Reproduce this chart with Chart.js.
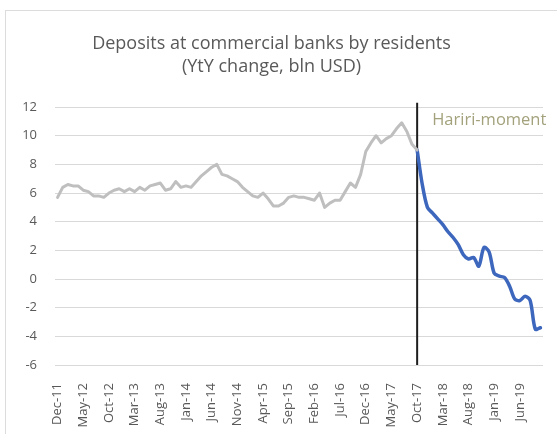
<!DOCTYPE html>
<html>
<head>
<meta charset="utf-8">
<script src="https://cdn.jsdelivr.net/npm/chart.js@4"></script>
<style>
  html, body { margin: 0; padding: 0; background: #ffffff; overflow: hidden; }
  #frame { position: absolute; left: 5px; top: 10px; width: 600px; height: 500px;
           border: 1px solid #dcdcdc; box-sizing: border-box; }
  #wrap { position: absolute; left: 0; top: 0; width: 557px; height: 434px; }
</style>
</head>
<body>
<div id="frame"></div>
<div id="wrap"><canvas id="chart" width="557" height="434"></canvas></div>
<script>
// Monthly categories, Dec-11 .. Oct-19
const months = [
  'Dec-11',
  'Jan-12','Feb-12','Mar-12','Apr-12','May-12','Jun-12','Jul-12','Aug-12','Sep-12','Oct-12','Nov-12','Dec-12',
  'Jan-13','Feb-13','Mar-13','Apr-13','May-13','Jun-13','Jul-13','Aug-13','Sep-13','Oct-13','Nov-13','Dec-13',
  'Jan-14','Feb-14','Mar-14','Apr-14','May-14','Jun-14','Jul-14','Aug-14','Sep-14','Oct-14','Nov-14','Dec-14',
  'Jan-15','Feb-15','Mar-15','Apr-15','May-15','Jun-15','Jul-15','Aug-15','Sep-15','Oct-15','Nov-15','Dec-15',
  'Jan-16','Feb-16','Mar-16','Apr-16','May-16','Jun-16','Jul-16','Aug-16','Sep-16','Oct-16','Nov-16','Dec-16',
  'Jan-17','Feb-17','Mar-17','Apr-17','May-17','Jun-17','Jul-17','Aug-17','Sep-17','Oct-17','Nov-17','Dec-17',
  'Jan-18','Feb-18','Mar-18','Apr-18','May-18','Jun-18','Jul-18','Aug-18','Sep-18','Oct-18','Nov-18','Dec-18',
  'Jan-19','Feb-19','Mar-19','Apr-19','May-19','Jun-19','Jul-19','Aug-19','Sep-19','Oct-19'
];

// YtY change in resident deposits, bln USD: Dec-11 .. Oct-17
const beforeHariri = [
  5.7,
  6.4, 6.6, 6.5, 6.5, 6.2, 6.1, 5.8, 5.8, 5.7, 6.0, 6.2, 6.3,
  6.1, 6.3, 6.1, 6.4, 6.2, 6.5, 6.6, 6.7, 6.2, 6.3, 6.8, 6.4,
  6.5, 6.4, 6.8, 7.2, 7.5, 7.8, 8.0, 7.3, 7.2, 7.0, 6.8, 6.4,
  6.1, 5.8, 5.7, 6.0, 5.6, 5.1, 5.1, 5.3, 5.7, 5.8, 5.7, 5.7,
  5.6, 5.5, 6.0, 5.0, 5.3, 5.5, 5.5, 6.1, 6.7, 6.4, 7.3, 8.9,
  9.5, 10.0, 9.5, 9.8, 10.0, 10.5, 10.9, 10.3, 9.4, 9.0
];

// YtY change in resident deposits, bln USD: Oct-17 .. Oct-19
const afterHariri = [
  9.0, 6.6, 5.0,
  4.6, 4.2, 3.8, 3.3, 2.9, 2.4, 1.7, 1.4, 1.5, 0.9, 2.2, 1.9,
  0.4, 0.2, 0.1, -0.5, -1.4, -1.5, -1.2, -1.5, -3.5, -3.4
];

// Month labels shown under the axis (every fifth month)
const shownTicks = ['Dec-11','May-12','Oct-12','Mar-13','Aug-13','Jan-14','Jun-14','Nov-14',
  'Apr-15','Sep-15','Feb-16','Jul-16','Dec-16','May-17','Oct-17','Mar-18','Aug-18','Jan-19','Jun-19'];

const eventMonth = 'Oct-17';
const eventLabel = 'Hariri-moment';

const eventIndex = months.indexOf(eventMonth);
const greySeries = months.map((m, i) => i < beforeHariri.length ? beforeHariri[i] : null);
const blueSeries = months.map((m, i) => i >= eventIndex ? afterHariri[i - eventIndex] : null);

const FONT = "'Open Sans', Lato, sans-serif";
const TEXT = '#595959';

// Vertical marker line with its caption
const eventMarker = {
  id: 'eventMarker',
  beforeDatasetsDraw(chart) {
    const { ctx, scales: { x, y } } = chart;
    const px = x.getPixelForValue(eventIndex);
    ctx.save();
    ctx.strokeStyle = '#1e1e1e';
    ctx.lineWidth = 2;
    ctx.beginPath();
    ctx.moveTo(px, y.getPixelForValue(12.3));
    ctx.lineTo(px, y.bottom);
    ctx.stroke();
    ctx.fillStyle = '#a3a27c';
    ctx.font = "16.5px " + FONT;
    ctx.textAlign = 'left';
    ctx.textBaseline = 'middle';
    ctx.fillText(eventLabel, px + 15, y.getPixelForValue(11.1));
    ctx.restore();
  }
};

new Chart(document.getElementById('chart'), {
  type: 'line',
  data: {
    labels: months,
    datasets: [
      {
        data: greySeries,
        borderColor: '#bfbfbf',
        borderWidth: 3,
        pointRadius: 0,
        tension: 0,
        borderJoinStyle: 'round',
        borderCapStyle: 'round',
        spanGaps: false
      },
      {
        data: blueSeries,
        borderColor: '#3d66bd',
        borderWidth: 3.5,
        pointRadius: 0,
        tension: 0.3,
        borderJoinStyle: 'round',
        borderCapStyle: 'round',
        spanGaps: false
      }
    ]
  },
  options: {
    responsive: false,
    animation: false,
    layout: { padding: { top: 22, right: 14, bottom: 0, left: 0 } },
    plugins: {
      legend: { display: false },
      tooltip: { enabled: false },
      title: {
        display: true,
        text: ['Deposits at commercial banks by residents', '(YtY change, bln USD)'],
        color: TEXT,
        font: { family: FONT, size: 18, weight: 'normal', lineHeight: 1.28 },
        padding: { top: 10, bottom: 29 }
      }
    },
    scales: {
      x: {
        offset: true,
        grid: { display: false },
        border: { display: false },
        ticks: {
          autoSkip: false,
          minRotation: 90,
          maxRotation: 90,
          padding: 10,
          color: TEXT,
          font: { family: FONT, size: 13 },
          callback(value) {
            const lab = this.getLabelForValue(value);
            return shownTicks.includes(lab) ? lab : null;
          }
        },
        afterFit(scale) { scale.height = 69; }
      },
      y: {
        min: -6,
        max: 12,
        grid: { color: '#d9d9d9', lineWidth: 1, drawTicks: false },
        border: { display: false },
        ticks: {
          stepSize: 2,
          padding: 18,
          color: TEXT,
          font: { family: FONT, size: 13 }
        },
        afterFit(scale) { scale.width = 55; }
      }
    }
  },
  plugins: [eventMarker]
});
</script>
</body>
</html>
